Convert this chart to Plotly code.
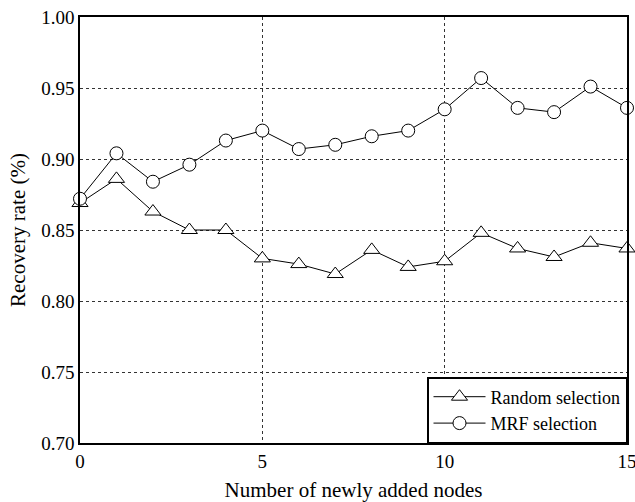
import plotly.graph_objects as go

nodes = list(range(16))
random_sel = [0.869, 0.886, 0.863, 0.850, 0.850, 0.830, 0.826, 0.819, 0.836, 0.824,
              0.828, 0.848, 0.837, 0.831, 0.841, 0.837]
mrf_sel = [0.872, 0.904, 0.884, 0.896, 0.913, 0.920, 0.907, 0.910, 0.916, 0.920,
           0.935, 0.957, 0.936, 0.933, 0.951, 0.936]
x_ticks = [0, 5, 10, 15]
y_ticks = [0.70, 0.75, 0.80, 0.85, 0.90, 0.95, 1.00]

FONT = "Liberation Serif"

fig = go.Figure()
fig.add_trace(go.Scatter(
    x=nodes, y=random_sel, mode="lines+markers", name="Random selection",
    line=dict(color="black", width=1),
    marker=dict(symbol="triangle-up", size=14, color="white",
                line=dict(color="black", width=1)),
    cliponaxis=False,
))
fig.add_trace(go.Scatter(
    x=nodes, y=mrf_sel, mode="lines+markers", name="MRF selection",
    line=dict(color="black", width=1),
    marker=dict(symbol="circle", size=13, color="white",
                line=dict(color="black", width=1)),
    cliponaxis=False,
))

axis_common = dict(
    showline=True, linecolor="black", linewidth=1.5, mirror=True,
    showgrid=True, gridcolor="#333333", gridwidth=1, griddash="3px,3px",
    zeroline=False, ticks="", automargin=False, ticklabeloverflow="allow",
    tickfont=dict(family=FONT, size=19, color="black"),
)

fig.update_xaxes(range=[0, 15], tickvals=x_ticks, ticktext=[str(v) for v in x_ticks],
                 title=dict(text="Number of newly added nodes", standoff=13,
                            font=dict(family=FONT, size=21, color="black")),
                 **axis_common)
fig.update_yaxes(range=[0.70, 1.00], tickvals=y_ticks,
                 ticktext=[f"{v:.2f}" for v in y_ticks],
                 title=dict(text="Recovery rate (%)", standoff=10,
                            font=dict(family=FONT, size=21, color="black")),
                 **axis_common)

fig.update_layout(
    width=635, height=502,
    margin=dict(l=80, r=8, t=17, b=59),
    plot_bgcolor="white", paper_bgcolor="white",
    font=dict(family=FONT, size=19, color="black"),
    legend=dict(x=1, y=0, xanchor="right", yanchor="bottom",
                bgcolor="white", bordercolor="black", borderwidth=1.5,
                font=dict(family=FONT, size=18, color="black"),
                tracegroupgap=0, itemwidth=52),
    showlegend=True,
)

fig.write_html("out.html", config={"displayModeBar": False},
               post_script="document.body.style.margin='0';")
